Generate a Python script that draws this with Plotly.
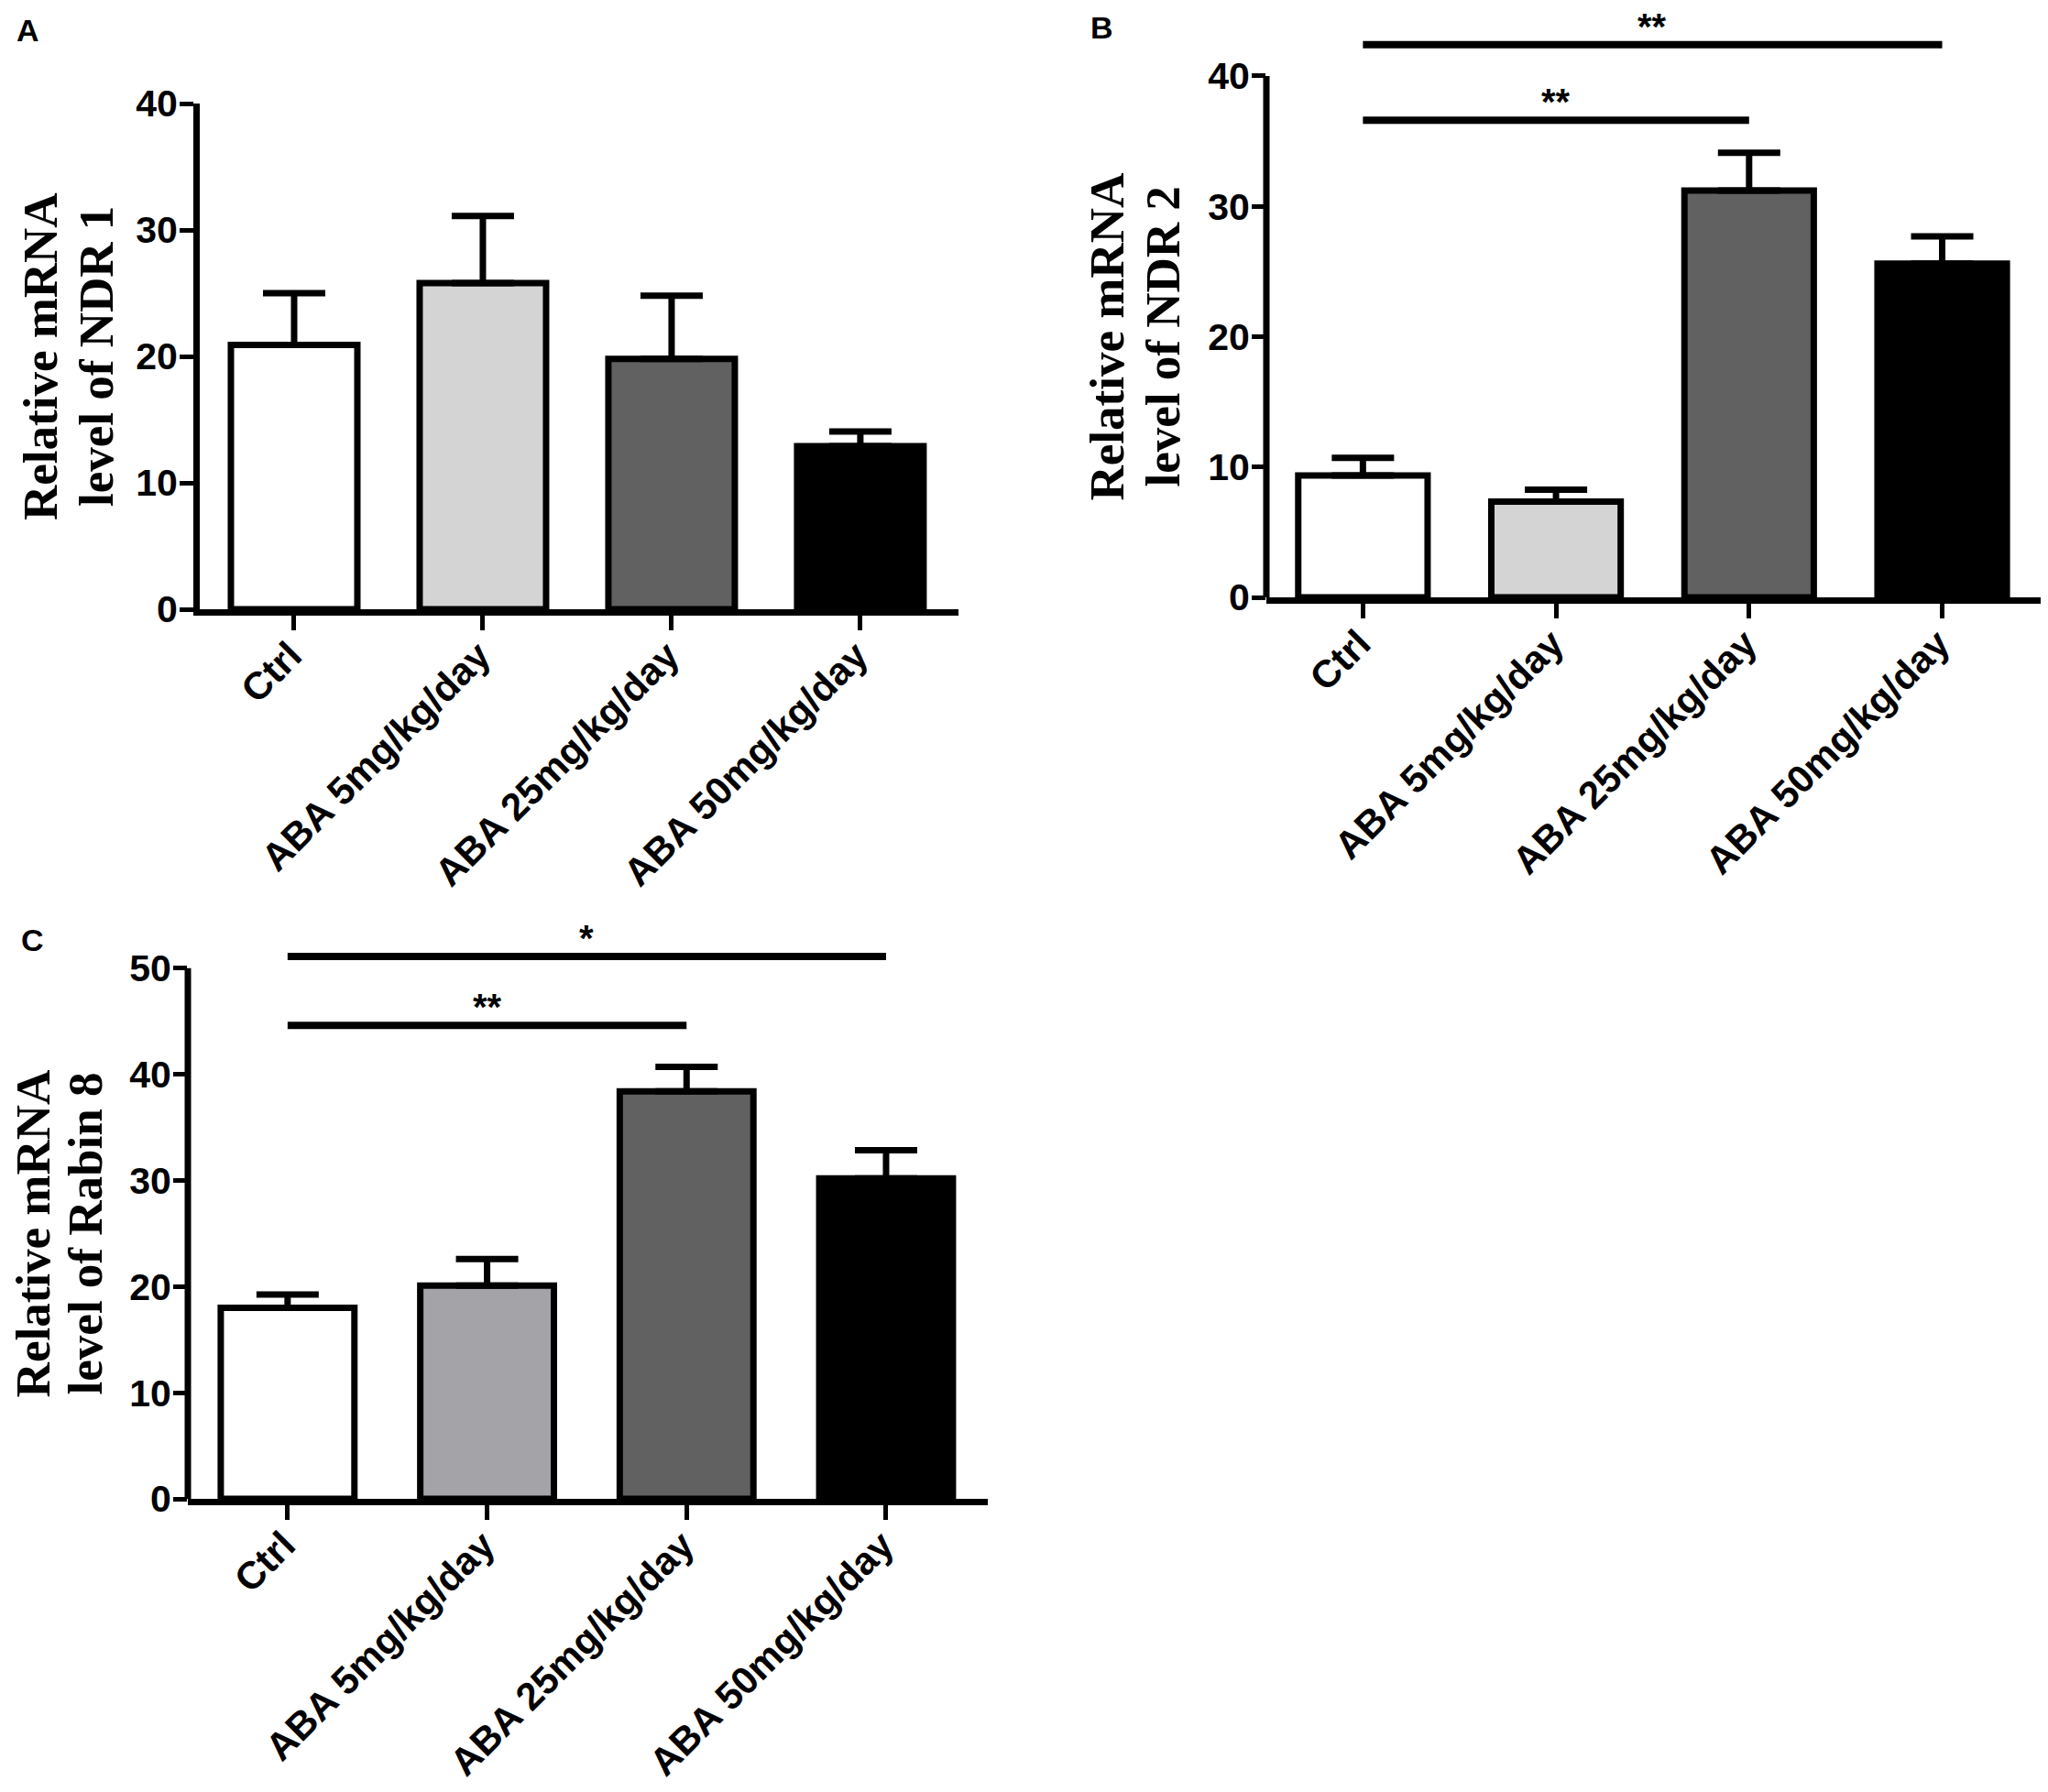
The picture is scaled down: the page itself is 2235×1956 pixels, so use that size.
import plotly.graph_objects as go

# the page body has an 8px margin, so the figure is made 16px smaller
OFF = 8
W, H = 2235 - 2 * OFF, 1956 - 2 * OFF

groups = ['Ctrl', 'ABA 5mg/kg/day', 'ABA 25mg/kg/day', 'ABA 50mg/kg/day']

# panel A - NDR 1
ndr1_mean = [20.9, 25.8, 19.8, 12.9]
ndr1_err = [4.1, 5.3, 5.0, 1.15]
# panel B - NDR 2
ndr2_mean = [9.35, 7.35, 31.2, 25.6]
ndr2_err = [1.35, 0.9, 2.9, 2.1]
# panel C - Rabin 8
rabin8_mean = [18.0, 20.1, 38.4, 30.2]
rabin8_err = [1.25, 2.5, 2.3, 2.65]

colors_ab = ['#ffffff', '#d4d4d4', '#616161', '#000000']
colors_c = ['#ffffff', '#a3a3a8', '#616161', '#000000']

titles_a = ['Relative mRNA', 'level of NDR 1']
titles_b = ['Relative mRNA', 'level of NDR 2']
titles_c = ['Relative mRNA', 'level of Rabin 8']

# significance bars: (from group, to group, level, label)
sig_b = [(0, 3, 42.4, '**'), (0, 2, 36.6, '**')]
sig_c = [(0, 3, 51.1, '*'), (0, 2, 44.6, '**')]

ytickfont = dict(family='Liberation Sans, Arial', size=41, color='black', weight='bold')
xtickfont = dict(family='Liberation Sans, Arial', size=42, color='black', weight='bold')
titlefont = dict(family='Liberation Serif, Times New Roman', size=53, color='black', weight='bold')


def fx(px):
    return (px - OFF) / W


def fy(py):
    return 1 - (py - OFF) / H


def bars(y, err, colors, xa, ya):
    return go.Bar(
        x=groups, y=y,
        xaxis=xa, yaxis=ya,
        width=0.67,
        marker=dict(color=colors, line=dict(color='black', width=7)),
        error_y=dict(type='data', symmetric=False, array=err,
                     arrayminus=[0] * len(err),
                     color='black', thickness=7, width=34),
        showlegend=False,
    )


fig = go.Figure()
fig.add_trace(bars(ndr1_mean, ndr1_err, colors_ab, 'x', 'y'))
fig.add_trace(bars(ndr2_mean, ndr2_err, colors_ab, 'x2', 'y2'))
fig.add_trace(bars(rabin8_mean, rabin8_err, colors_c, 'x3', 'y3'))


def xax(domain, anchor, rng):
    return dict(domain=domain, anchor=anchor, range=rng, type='category',
                automargin=False,
                showline=True, linecolor='black', linewidth=7,
                ticks='outside', ticklen=16, tickwidth=5, tickcolor='black',
                tickangle=-45, tickfont=xtickfont, ticklabelstandoff=-14,
                ticklabelshift=-4, showgrid=False, zeroline=False)


def yax(domain, anchor, rng, tickvals, showline=True):
    return dict(domain=domain, anchor=anchor, range=rng, tickvals=tickvals,
                automargin=False,
                showline=showline, linecolor='black', linewidth=7,
                ticks='outside', ticklen=15, tickwidth=5, tickcolor='black',
                tickfont=ytickfont, ticklabelstandoff=-6,
                showgrid=False, zeroline=False)


fig.update_layout(
    width=W, height=H,
    margin=dict(l=0, r=0, t=0, b=0, autoexpand=False),
    paper_bgcolor='white', plot_bgcolor='white',
    xaxis=xax([fx(218), fx(1046)], 'y', [-0.5, 3.52]),
    yaxis=yax([fy(665), fy(113)], 'x', [0, 40], [0, 10, 20, 30, 40]),
    xaxis2=xax([fx(1382), fx(2227)], 'y2', [-0.5, 3.51]),
    yaxis2=yax([fy(652), fy(26)], 'x2', [0, 44], [0, 10, 20, 30, 40], showline=False),
    xaxis3=xax([fx(205), fx(1078)], 'y3', [-0.5, 3.51]),
    yaxis3=yax([fy(1636), fy(1022)], 'x3', [0, 53], [0, 10, 20, 30, 40, 50], showline=False),
)

# y axis lines for panels with significance bars drawn above the top tick
for xa, ya, top in [('x2', 'y2', 40), ('x3', 'y3', 50)]:
    fig.add_shape(type='line', xref=xa + ' domain', yref=ya, x0=0, x1=0, y0=0, y1=top,
                  line=dict(color='black', width=7))

for xa, ya, sigs in [('x2', 'y2', sig_b), ('x3', 'y3', sig_c)]:
    for i0, i1, level, label in sigs:
        fig.add_shape(type='line', xref=xa, yref=ya, x0=groups[i0], x1=groups[i1],
                      y0=level, y1=level, line=dict(color='black', width=8))
        fig.add_annotation(xref=xa, yref=ya, x=(i0 + i1) / 2, y=level, text=label,
                           showarrow=False, yanchor='bottom', yshift=-3, borderpad=0,
                           font=dict(family='Liberation Sans, Arial', size=40,
                                     color='black', weight='bold'))

# y axis titles, two rotated lines set close together, centred on the tick range
for ya, axis_px, ymid, lines, offsets in [('y', 218, 20, titles_a, [174, 113]),
                                          ('y2', 1382, 20, titles_b, [174, 113]),
                                          ('y3', 205, 25, titles_c, [169, 112])]:
    for line, dx in zip(lines, offsets):
        fig.add_annotation(xref='paper', yref=ya, x=fx(axis_px - dx), y=ymid, text=line,
                           textangle=-90, showarrow=False, xanchor='center', yanchor='middle',
                           borderpad=0, font=titlefont)

# panel letters
for letter, px, py in [('A', 30, 33), ('B', 1202, 30), ('C', 35, 1026)]:
    fig.add_annotation(xref='paper', yref='paper', x=fx(px), y=fy(py), text=letter,
                       showarrow=False, xanchor='center', yanchor='middle',
                       font=dict(family='Liberation Sans, Arial', size=34, color='black', weight='bold'))

fig.write_html('out.html')
